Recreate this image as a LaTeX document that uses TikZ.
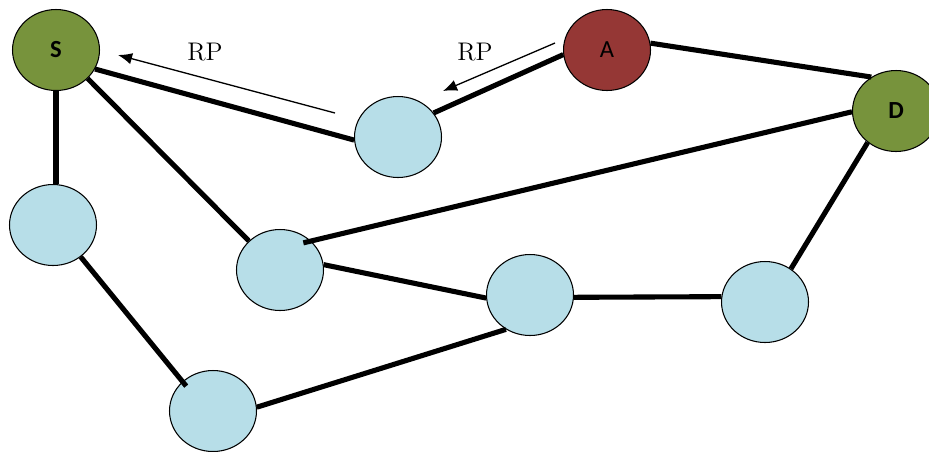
\documentclass[tikz,border=0pt]{standalone}
\usepackage{fontspec}
\usepackage{xcolor}
\usetikzlibrary{shapes.geometric, arrows.meta}
\newfontfamily\labelfont{Carlito}
\definecolor{hostblue}{HTML}{B7DEE8}
\definecolor{endgreen}{HTML}{77933C}
\definecolor{badred}{HTML}{953735}

\begin{document}
\begin{tikzpicture}[x=0.02cm, y=-0.02cm,
    host/.style={ellipse, draw=black, line width=0.6pt, fill=hostblue, minimum width=1.74cm, minimum height=1.62cm, inner sep=0pt, font=\labelfont\fontsize{14}{16}\selectfont},
    link/.style={line width=2.9pt},
    rp/.style={line width=0.75pt, -{Latex[length=8pt, width=6.5pt]}}]
    \useasboundingbox (0,0) rectangle (929,451);

    % Nodes of the network
    \node[host, fill=endgreen] (S) at (56,50) {\textbf{S}};
    \node[host, fill=badred] (A) at (607,50) {A};
    \node[host, fill=endgreen] (D) at (896,111) {\textbf{D}};
    \node[host] (n1) at (398,137) {};
    \node[host] (n2) at (53,225) {};
    \node[host] (n3) at (280,270) {};
    \node[host] (n4) at (530,295) {};
    \node[host] (n5) at (765,302) {};
    \node[host] (n6) at (213,411) {};

    % Links
    \draw[link] (S.-26) -- (n1.184);
    \draw[link] (S.-42) -- (n3.137);
    \draw[link] (S.south) -- (S.south |- n2.north);
    \draw[link, shorten >=-0.12cm] (n2.-49) -- (n6.136);
    \draw[link, shorten <=-0.16cm] (n3.43) -- (D.181);
    \draw[link] (n3.7) -- (n4.184);
    \draw[link] (n4.-3) -- (n5.173);
    \draw[link] (n6.5) -- (n4.235);
    \draw[link] (n5.52) -- (D.228);
    \draw[link] (A.186) -- (n1.34);
    \draw[link] (A.9) -- (D.126);

    % Route replies
    \coordinate (rpa) at (335,113);
    \coordinate (rpb) at (118,55);
    \coordinate (rpc) at (555,43);
    \coordinate (rpd) at (443,91);
    \draw[rp] (rpa) -- (rpb);
    \draw[rp] (rpc) -- (rpd);
    \node[font=\fontsize{14.5}{16}\selectfont] (rp1) at (205,52) {RP};
    \node[font=\fontsize{14.5}{16}\selectfont] (rp2) at (475,52) {RP};
\end{tikzpicture}
\end{document}
